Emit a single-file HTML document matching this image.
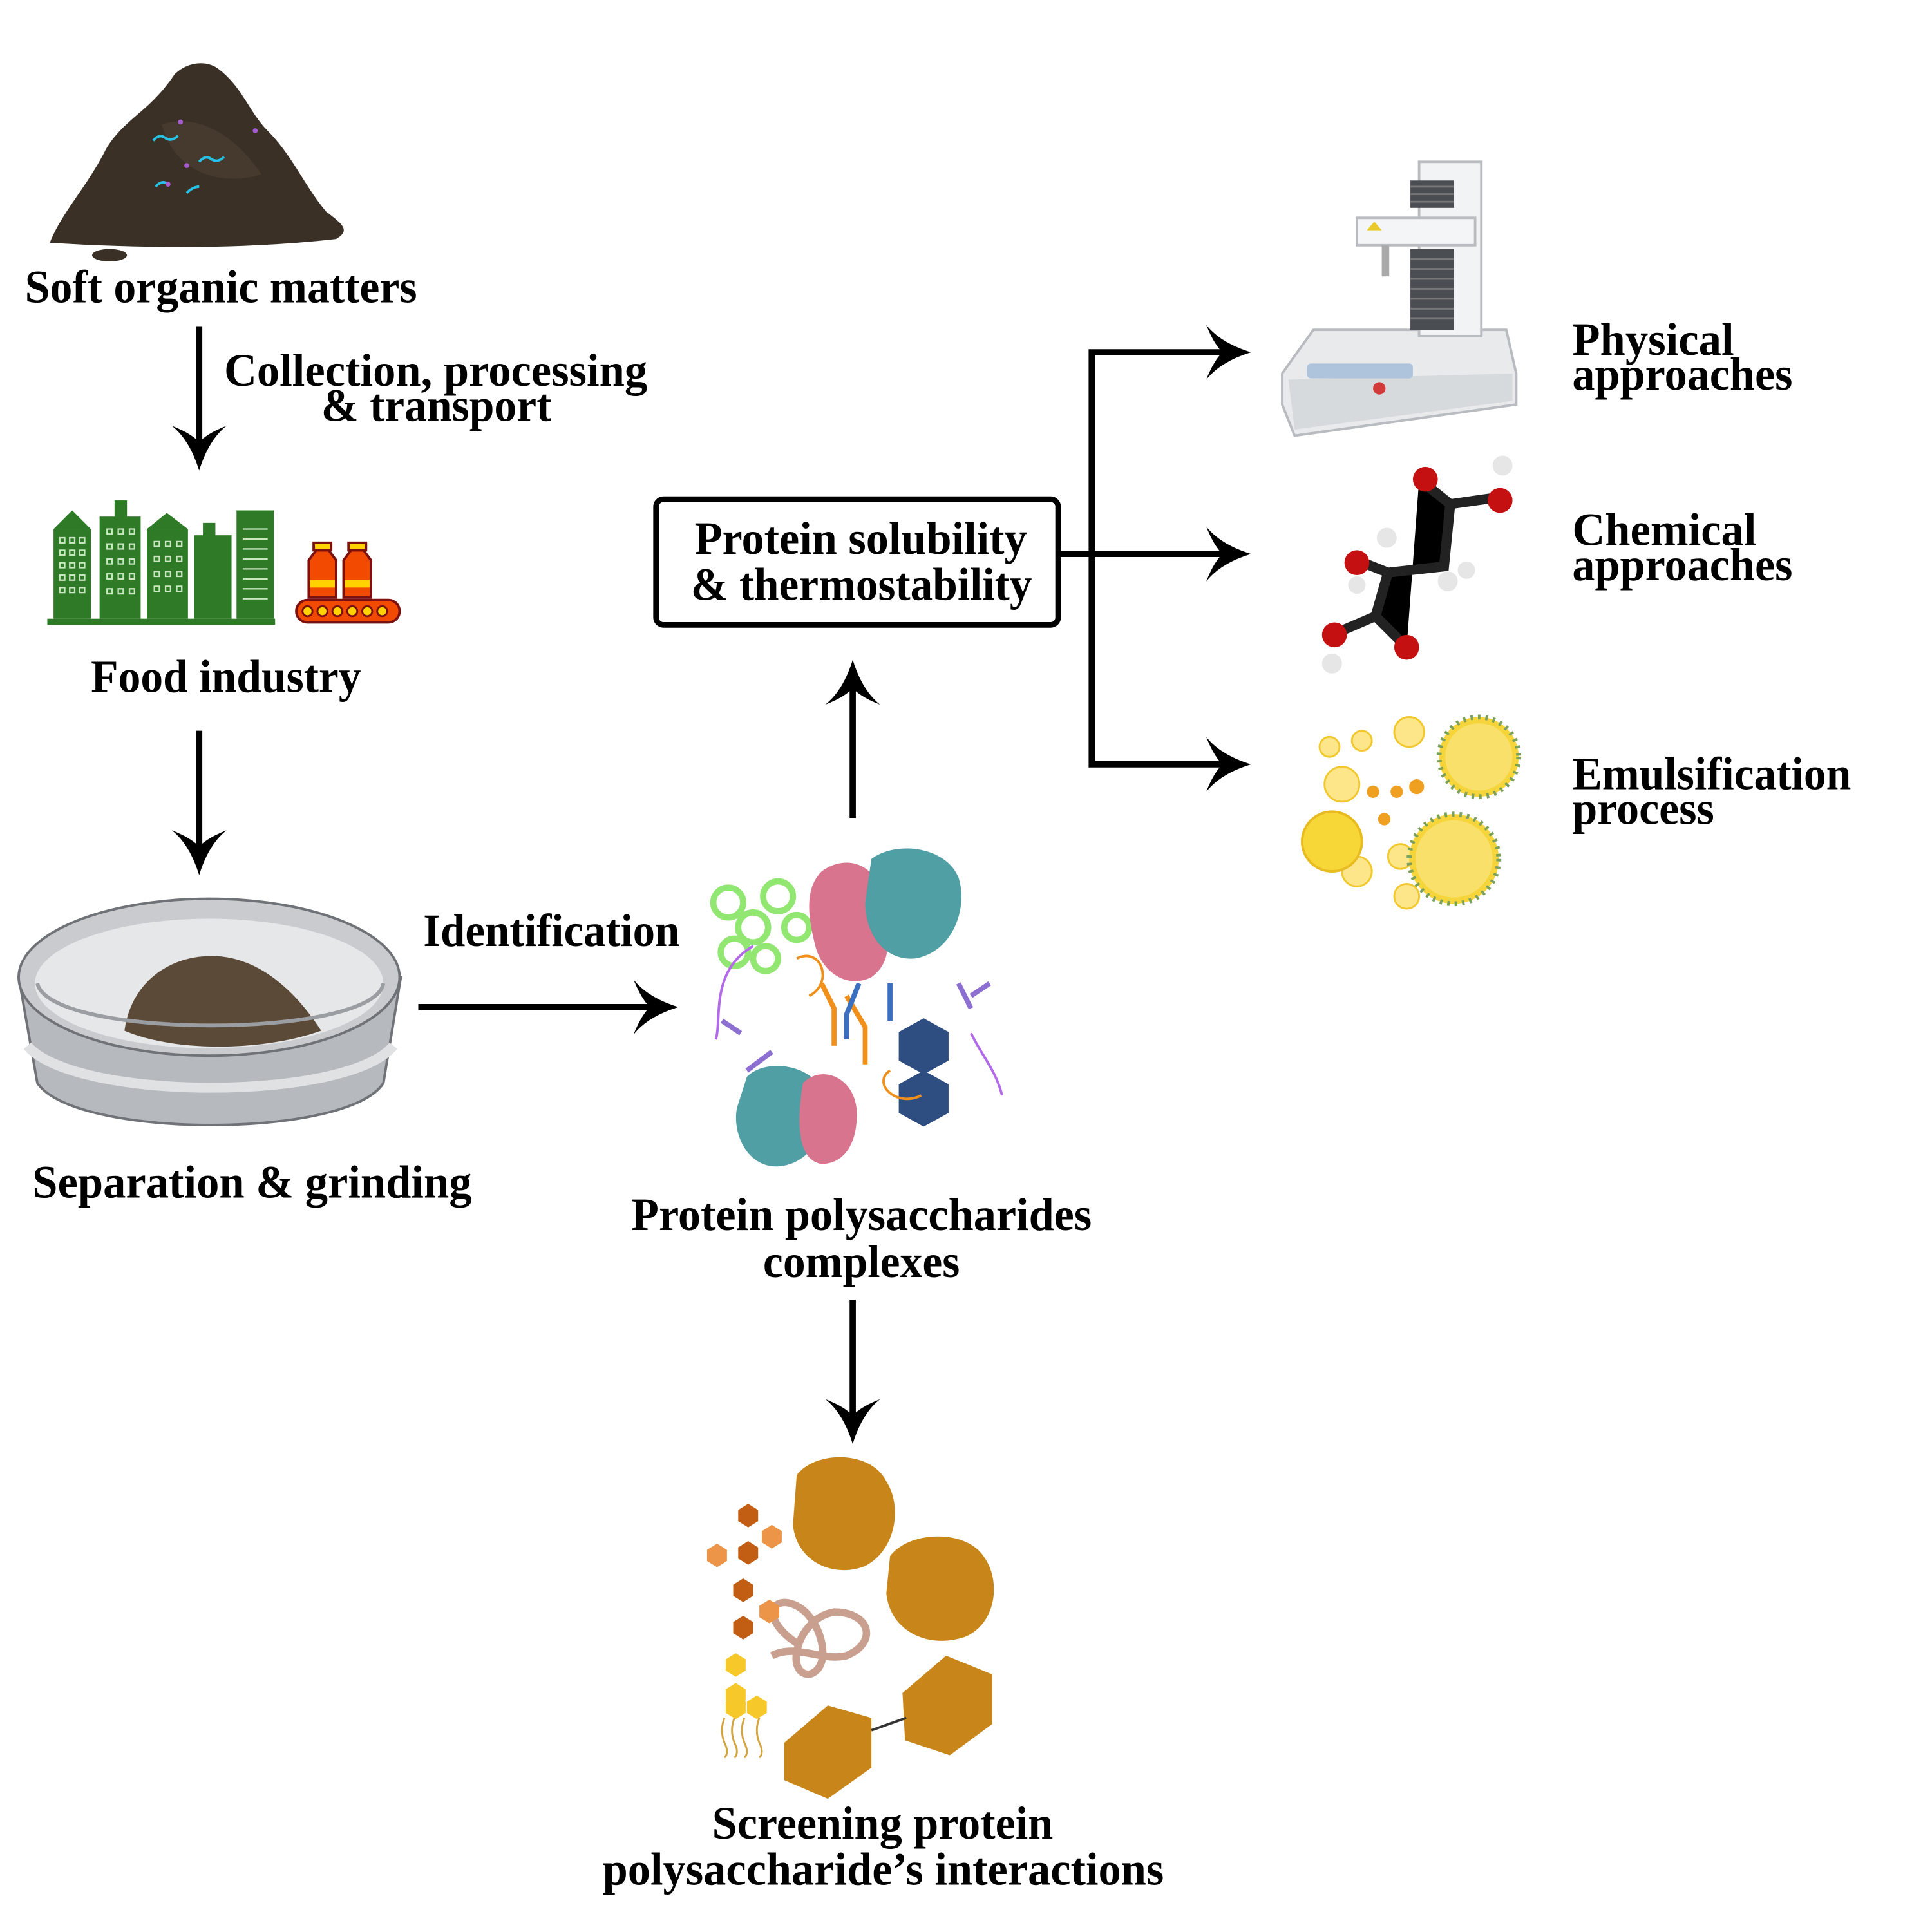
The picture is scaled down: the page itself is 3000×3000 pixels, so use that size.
<!DOCTYPE html>
<html><head><meta charset="utf-8"><style>html,body{margin:0;padding:0;background:#fff}svg{display:block}</style></head>
<body>
<svg width="3000" height="3000" viewBox="0 0 1552 1552" xmlns="http://www.w3.org/2000/svg">
<defs>
<path id="ah" d="M0 0 C-16 -5 -28 -12 -36 -22 C-32 -12 -28 -5 -23 0 C-28 5 -32 12 -36 22 C-28 12 -16 5 0 0Z" fill="#000"/>
</defs>
<rect width="1552" height="1552" fill="#fff"/>

<!-- soil pile -->
<path d="M40 195 C50 170 70 150 85 120 C100 95 120 90 140 60 C150 50 165 48 175 55 C195 70 200 90 215 105 C235 125 245 150 262 170 C275 180 282 185 270 192 C200 200 120 200 40 195Z" fill="#3a3026"/>
<path d="M130 100 C160 90 190 110 210 140 C180 150 140 140 130 100Z" fill="#4a3e30" opacity="0.7"/>
<ellipse cx="88" cy="205" rx="14" ry="5" fill="#3a3026"/>
<g stroke="#27c1e6" stroke-width="2" fill="none"><path d="M123 113 q5 -6 10 -2 q5 3 10 -2"/><path d="M160 130 q5 -6 10 -2 q5 3 10 -2"/><path d="M125 150 q5 -6 10 -2"/><path d="M150 155 q5 -5 10 -5"/></g>
<g fill="#a45ccf"><circle cx="145" cy="98" r="2"/><circle cx="205" cy="105" r="2"/><circle cx="150" cy="133" r="2"/><circle cx="135" cy="148" r="2"/></g>

<!-- buildings -->
<g fill="#2f7a27">
<rect x="38" y="497" width="183" height="5"/>
<rect x="43" y="425" width="30" height="72"/><polygon points="43,425 58,410 73,425"/>
<rect x="80" y="415" width="33" height="82"/><rect x="92" y="402" width="10" height="14"/>
<rect x="118" y="425" width="33" height="72"/><polygon points="118,425 134,412 151,425"/>
<rect x="156" y="430" width="30" height="67"/><rect x="163" y="420" width="10" height="12"/>
<rect x="190" y="410" width="30" height="87"/>
</g>
<g fill="none" stroke="#c8e6c0" stroke-width="1.2">
<path d="M48 432h4v4h-4zM56 432h4v4h-4zM64 432h4v4h-4zM48 442h4v4h-4zM56 442h4v4h-4zM64 442h4v4h-4zM48 452h4v4h-4zM56 452h4v4h-4zM64 452h4v4h-4zM48 462h4v4h-4zM56 462h4v4h-4zM64 462h4v4h-4zM48 472h4v4h-4zM56 472h4v4h-4zM64 472h4v4h-4z"/>
<path d="M86 425h4v4h-4zM95 425h4v4h-4zM104 425h4v4h-4zM86 437h4v4h-4zM95 437h4v4h-4zM104 437h4v4h-4zM86 449h4v4h-4zM95 449h4v4h-4zM104 449h4v4h-4zM86 461h4v4h-4zM95 461h4v4h-4zM104 461h4v4h-4zM86 473h4v4h-4zM95 473h4v4h-4zM104 473h4v4h-4z"/>
<path d="M124 435h4v4h-4zM133 435h4v4h-4zM142 435h4v4h-4zM124 447h4v4h-4zM133 447h4v4h-4zM142 447h4v4h-4zM124 459h4v4h-4zM133 459h4v4h-4zM142 459h4v4h-4zM124 471h4v4h-4zM133 471h4v4h-4zM142 471h4v4h-4z"/>
<path d="M195 425h20M195 433h20M195 441h20M195 449h20M195 457h20M195 465h20M195 473h20M195 481h20"/>
</g>
<!-- bottles -->
<g stroke="#7a1010" stroke-width="2">
<rect x="238" y="482" width="83" height="18" rx="9" fill="#f24a00"/>
<path d="M248 480 v-30 l6 -8 h10 l6 8 v30z" fill="#f24a00"/>
<path d="M276 480 v-30 l6 -8 h10 l6 8 v30z" fill="#f24a00"/>
<rect x="252" y="436" width="14" height="6" fill="#ffd200"/><rect x="280" y="436" width="14" height="6" fill="#ffd200"/>
</g>
<rect x="249" y="466" width="20" height="6" fill="#ffd200"/><rect x="277" y="466" width="20" height="6" fill="#ffd200"/>
<g fill="#ffd200" stroke="#7a1010" stroke-width="1.5"><circle cx="247" cy="491" r="4"/><circle cx="259" cy="491" r="4"/><circle cx="271" cy="491" r="4"/><circle cx="283" cy="491" r="4"/><circle cx="295" cy="491" r="4"/><circle cx="307" cy="491" r="4"/></g>

<!-- sieve -->
<path d="M15 785 L30 870 C60 915 280 915 308 870 L322 785Z" fill="#b6b9bd" stroke="#6f7378" stroke-width="2"/>
<path d="M22 840 C60 885 280 885 316 840" fill="none" stroke="#dfe1e3" stroke-width="8"/>
<ellipse cx="168" cy="785" rx="153" ry="63" fill="#c9cbce" stroke="#6f7378" stroke-width="2"/>
<ellipse cx="168" cy="790" rx="140" ry="52" fill="#e6e7e8"/>
<path d="M100 828 C105 790 135 768 170 768 C210 768 240 800 258 828 C210 845 140 845 100 828Z" fill="#5c4a38"/>
<path d="M30 790 C40 835 300 835 308 790" fill="none" stroke="#9a9da1" stroke-width="3"/>

<!-- complex illustration -->
<g>
<g fill="none" stroke="#7ee35a" stroke-width="5" opacity="0.85"><circle cx="585" cy="725" r="12"/><circle cx="605" cy="745" r="12"/><circle cx="625" cy="720" r="12"/><circle cx="590" cy="765" r="11"/><circle cx="615" cy="770" r="10"/><circle cx="640" cy="745" r="10"/></g>
<path d="M660 700 C680 685 705 695 708 720 C712 750 720 770 700 785 C680 795 660 780 655 760 C650 740 645 715 660 700Z" fill="#d9748f"/>
<path d="M700 690 C720 675 760 680 770 705 C778 730 765 765 735 770 C710 772 695 750 695 725Z" fill="#4f9fa4"/>
<path d="M600 865 C615 850 650 855 660 875 C670 900 655 935 625 937 C600 938 588 910 592 890Z" fill="#4f9fa4"/>
<path d="M645 870 C660 855 685 865 688 890 C690 915 680 935 660 935 C640 932 640 900 645 870Z" fill="#d9748f"/>
<g fill="#2e4d80"><polygon points="742,818 762,829 762,852 742,863 722,852 722,829"/><polygon points="742,860 762,871 762,894 742,905 722,894 722,871"/></g>
<g fill="none" stroke-width="4"><path d="M660 790 l10 20 v30 M680 800 l15 25 v30" stroke="#f0901a"/><path d="M690 790 l-10 25 v20 M715 790 v30" stroke="#3b6fbf"/><path d="M580 820 l15 10 M600 860 l20 -15 M770 790 l10 20 M780 800 l15 -10" stroke="#8c6fd1"/></g>
<g fill="none" stroke="#b36ae8" stroke-width="2"><path d="M605 760 C570 780 580 820 575 835"/><path d="M780 830 C790 850 800 860 805 880"/></g>
<g fill="none" stroke="#f0901a" stroke-width="2"><path d="M640 770 C660 760 670 790 650 800"/><path d="M715 860 C700 870 720 890 740 880"/></g>
</g>

<!-- screening illustration -->
<g>
<path d="M640 1185 C655 1165 700 1165 712 1190 C725 1210 720 1245 695 1258 C670 1268 640 1255 637 1225Z" fill="#c8861a"/>
<path d="M715 1250 C730 1230 775 1228 790 1250 C805 1270 800 1305 775 1315 C745 1325 715 1310 712 1280Z" fill="#c8861a"/>
<polygon points="725,1360 760,1330 797,1345 797,1385 763,1410 727,1398" fill="#c8861a"/>
<polygon points="630,1400 665,1370 700,1380 700,1420 665,1445 630,1430" fill="#c8861a"/>
<line x1="700" y1="1390" x2="728" y2="1380" stroke="#333" stroke-width="2"/>
<g fill="none" stroke="#c9a08f" stroke-width="6"><path d="M640 1320 C610 1300 620 1280 640 1290 C660 1300 670 1340 650 1345 C630 1345 640 1300 670 1295 C700 1295 705 1320 680 1330 C660 1335 640 1320 620 1330"/></g>
<g fill="#c25e14"><polygon points="601,1208 609,1213 609,1222 601,1227 593,1222 593,1213"/><polygon points="601,1238 609,1243 609,1252 601,1257 593,1252 593,1243"/><polygon points="597,1268 605,1273 605,1282 597,1287 589,1282 589,1273"/><polygon points="597,1298 605,1303 605,1312 597,1317 589,1312 589,1303"/></g>
<g fill="#ec9447"><polygon points="620,1225 628,1230 628,1239 620,1244 612,1239 612,1230"/><polygon points="576,1240 584,1245 584,1254 576,1259 568,1254 568,1245"/><polygon points="618,1285 626,1290 626,1299 618,1304 610,1299 610,1290"/></g>
<g fill="#f7c82a"><polygon points="591,1328 599,1333 599,1342 591,1347 583,1342 583,1333"/><polygon points="591,1352 599,1357 599,1366 591,1371 583,1366 583,1357"/><polygon points="591,1362 599,1367 599,1376 591,1381 583,1376 583,1367"/><polygon points="608,1362 616,1367 616,1376 608,1381 600,1376 600,1367"/></g>
<g fill="none" stroke="#d4a441" stroke-width="1.5"><path d="M582 1380 q-4 10 0 20 q4 8 0 12"/><path d="M590 1380 q-4 10 0 20 q4 8 0 12"/><path d="M598 1380 q-4 10 0 20 q4 8 0 12"/><path d="M610 1380 q-4 10 0 20 q4 8 0 12"/></g>
</g>

<!-- instrument -->
<g>
<path d="M1030 300 L1055 265 L1210 265 L1218 300 L1218 325 L1040 350 L1030 325Z" fill="#e8eaec" stroke="#b8bcc0" stroke-width="2"/>
<path d="M1035 305 L1215 300 L1215 322 L1040 345Z" fill="#d7dadd"/>
<rect x="1140" y="130" width="50" height="140" fill="#f2f3f4" stroke="#b8bcc0" stroke-width="2"/>
<g fill="#4a4d52"><rect x="1133" y="145" width="35" height="22"/><rect x="1133" y="200" width="35" height="65"/></g>
<g stroke="#777" stroke-width="1.5"><path d="M1133 150h35M1133 156h35M1133 162h35M1133 208h35M1133 216h35M1133 224h35M1133 232h35M1133 240h35M1133 248h35M1133 256h35"/></g>
<rect x="1090" y="175" width="95" height="22" fill="#f4f5f6" stroke="#b8bcc0" stroke-width="2"/>
<polygon points="1098,185 1104,178 1110,185" fill="#e9c92a"/>
<rect x="1110" y="197" width="6" height="25" fill="#aaa"/>
<rect x="1050" y="292" width="85" height="12" rx="3" fill="#aec4dc"/>
<circle cx="1108" cy="312" r="5" fill="#d23a3a"/>
</g>

<!-- molecule -->
<g>
<g stroke="#222" stroke-width="8" stroke-linecap="round"><path d="M1140 385 L1165 405 L1160 455 L1115 460 L1105 495 L1130 520"/><path d="M1165 405 L1200 400"/><path d="M1105 495 L1070 510"/><path d="M1115 460 L1090 450"/></g>
<circle cx="1145" cy="385" r="10" fill="#c41010"/><circle cx="1205" cy="402" r="10" fill="#c41010"/><circle cx="1207" cy="374" r="8" fill="#e6e6e6"/>
<circle cx="1090" cy="452" r="10" fill="#c41010"/><circle cx="1114" cy="432" r="8" fill="#e6e6e6"/><circle cx="1090" cy="470" r="7" fill="#e6e6e6"/>
<circle cx="1163" cy="467" r="8" fill="#e6e6e6"/><circle cx="1178" cy="458" r="7" fill="#e6e6e6"/>
<circle cx="1130" cy="520" r="10" fill="#c41010"/><circle cx="1072" cy="510" r="10" fill="#c41010"/><circle cx="1070" cy="533" r="8" fill="#e6e6e6"/>
</g>

<!-- emulsion -->
<g>
<g fill="#fde68a" stroke="#f1c830" stroke-width="1.5"><circle cx="1132" cy="588" r="12"/><circle cx="1078" cy="630" r="14"/><circle cx="1094" cy="595" r="8"/><circle cx="1125" cy="688" r="10"/><circle cx="1090" cy="700" r="12"/><circle cx="1130" cy="720" r="10"/><circle cx="1068" cy="600" r="8"/></g>
<circle cx="1188" cy="608" r="32" fill="#f5d53a" stroke="#7aa05a" stroke-width="4" stroke-dasharray="2 4"/>
<circle cx="1188" cy="608" r="27" fill="#f8e06b"/>
<circle cx="1168" cy="690" r="36" fill="#f5d53a" stroke="#7aa05a" stroke-width="4" stroke-dasharray="2 4"/>
<circle cx="1168" cy="690" r="31" fill="#f8e06b"/>
<circle cx="1070" cy="676" r="24" fill="#f7d637" stroke="#e8bc20" stroke-width="2"/>
<g fill="#f0a020"><circle cx="1103" cy="636" r="5"/><circle cx="1122" cy="636" r="5"/><circle cx="1138" cy="632" r="6"/><circle cx="1112" cy="658" r="5"/></g>
</g>

<!-- connectors -->
<g stroke="#000" stroke-width="5" fill="none">
<line x1="160" y1="262" x2="160" y2="360"/>
<line x1="160" y1="587" x2="160" y2="685"/>
<line x1="336" y1="809" x2="530" y2="809"/>
<line x1="685" y1="657" x2="685" y2="548"/>
<line x1="685" y1="1044" x2="685" y2="1142"/>
<line x1="850" y1="445" x2="990" y2="445"/>
<path d="M990 283 H877 V614 H990"/>
</g>
<use href="#ah" transform="translate(160,378) rotate(90)"/>
<use href="#ah" transform="translate(160,703) rotate(90)"/>
<use href="#ah" transform="translate(545,809)"/>
<use href="#ah" transform="translate(685,530) rotate(-90)"/>
<use href="#ah" transform="translate(685,1160) rotate(90)"/>
<use href="#ah" transform="translate(1005,283)"/>
<use href="#ah" transform="translate(1005,445)"/>
<use href="#ah" transform="translate(1005,614)"/>

<rect x="527" y="401" width="323" height="101" rx="6" fill="#fff" stroke="#000" stroke-width="4.5"/>

<g font-family="Liberation Serif, serif" font-weight="bold" font-size="37" fill="#000" lengthAdjust="spacingAndGlyphs">
<text x="20" y="243" textLength="315" lengthAdjust="spacingAndGlyphs">Soft organic matters</text>
<text x="180" y="310" textLength="340" lengthAdjust="spacingAndGlyphs">Collection, processing</text>
<text x="258" y="338" textLength="185" lengthAdjust="spacingAndGlyphs">&amp; transport</text>
<text x="73" y="556" textLength="217" lengthAdjust="spacingAndGlyphs">Food industry</text>
<text x="26" y="962" textLength="353" lengthAdjust="spacingAndGlyphs">Separation &amp; grinding</text>
<text x="340" y="760" textLength="206" lengthAdjust="spacingAndGlyphs">Identification</text>
<text x="558" y="445" textLength="267" lengthAdjust="spacingAndGlyphs">Protein solubility</text>
<text x="555" y="482" textLength="274" lengthAdjust="spacingAndGlyphs">&amp; thermostability</text>
<text x="507" y="988" textLength="370" lengthAdjust="spacingAndGlyphs">Protein polysaccharides</text>
<text x="613" y="1026" textLength="158" lengthAdjust="spacingAndGlyphs">complexes</text>
<text x="572" y="1477" textLength="274" lengthAdjust="spacingAndGlyphs">Screening protein</text>
<text x="484" y="1514" textLength="451" lengthAdjust="spacingAndGlyphs">polysaccharide’s interactions</text>
<text x="1263" y="285" textLength="130" lengthAdjust="spacingAndGlyphs">Physical</text>
<text x="1263" y="313" textLength="177" lengthAdjust="spacingAndGlyphs">approaches</text>
<text x="1263" y="438" textLength="148" lengthAdjust="spacingAndGlyphs">Chemical</text>
<text x="1263" y="466" textLength="177" lengthAdjust="spacingAndGlyphs">approaches</text>
<text x="1263" y="634" textLength="224" lengthAdjust="spacingAndGlyphs">Emulsification</text>
<text x="1263" y="662" textLength="114" lengthAdjust="spacingAndGlyphs">process</text>
</g>
</svg>
</body></html>
